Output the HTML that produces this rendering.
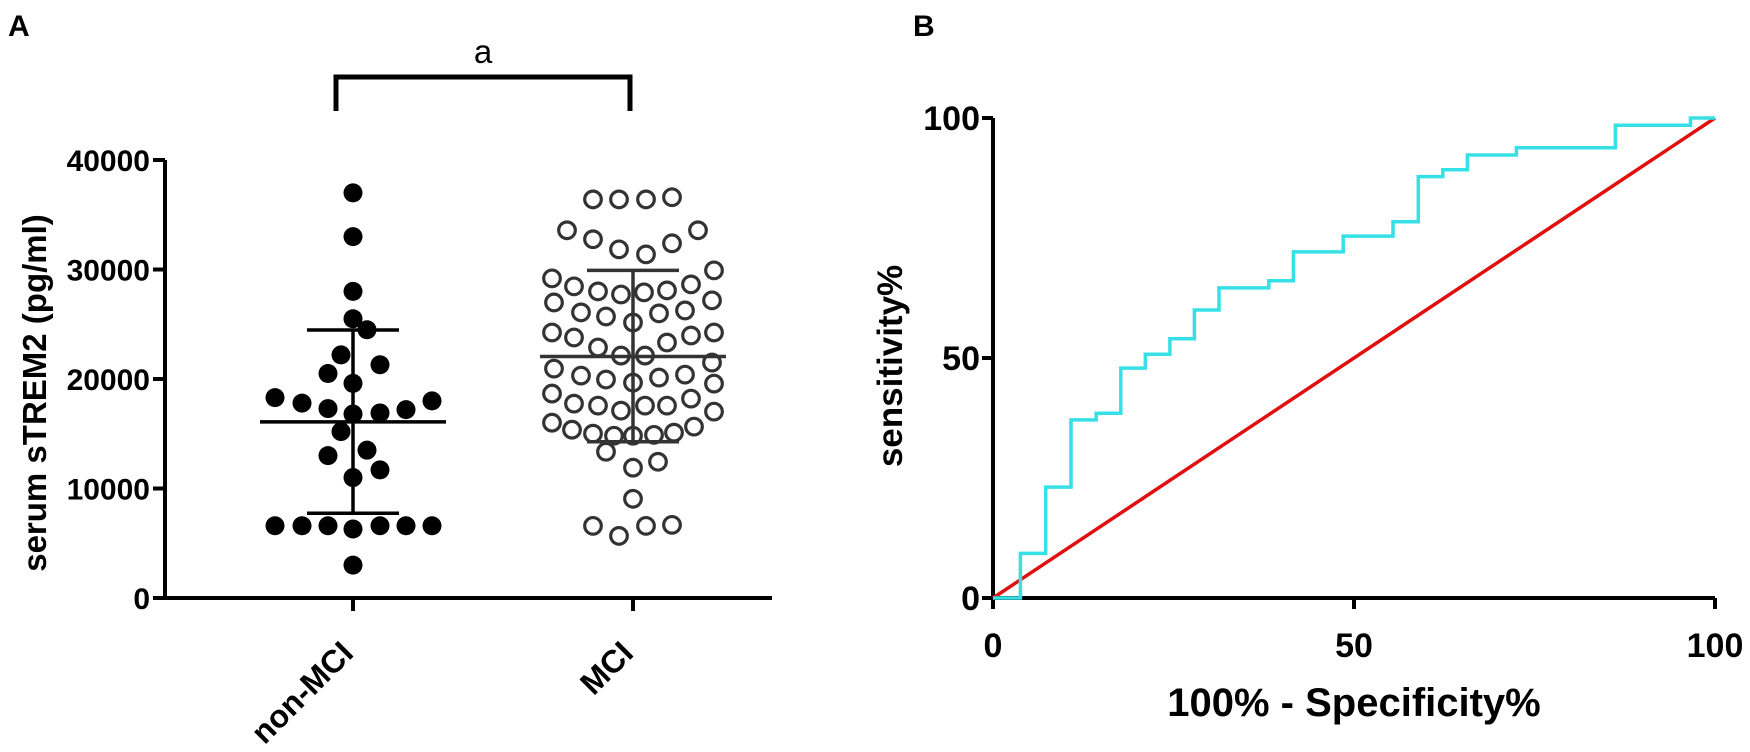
<!DOCTYPE html>
<html><head><meta charset="utf-8"><style>
html,body{margin:0;padding:0;background:#fff;}
svg{display:block;font-family:"Liberation Sans",Arial,sans-serif;}
</style></head><body>
<svg id="fig" width="1750" height="752" viewBox="0 0 1750 752">
<g id="panelA"></g>
<g id="panelB"></g>
</svg>
<script>
// ---------- Panel A data ----------
const groups = ["non-MCI","MCI"];
const nonMciValues = [37000,33000,28000,25500,24500,22200,21300,20500,19600,18300,17800,17300,16800,16900,17200,18000,15200,13000,13500,11700,11000,6600,6600,6600,6300,6600,6600,6600,3000];
const nonMciOffsets = [0,0,0,0,14,-12,27,-25,0,-78,-51,-25,0,27,53,79,-12,-25,14,27,0,-78,-51,-25,0,27,53,79,0];
const mciValues = [36400,36400,36400,36600,33580,32760,31840,31380,32390,33580,29190,28460,28000,27720,27910,28090,28640,29920,26990,26080,25710,25160,25990,26260,27180,24250,23790,22880,22140,22140,23330,23970,24250,21500,20950,20310,19950,19670,20130,20400,19580,18670,17750,17570,17110,17570,17570,18210,17020,16010,15370,15010,14820,14820,14900,15100,15650,13360,11900,12440,9060,6590,5670,6590,6680];
const mciOffsets = [-40,-14,13,39,-66,-40,-14,13,39,65,-81,-59,-35,-12,11,34,58,81,-79,-52,-27,0,26,52,79,-81,-59,-35,-12,12,34,58,81,79,-79,-52,-27,0,26,52,81,-81,-59,-35,-12,12,34,58,81,-81,-61,-40,-19,0,21,41,61,-27,0,25,0,-40,-14,13,39];
const groupMeans = [16090,22050];
const groupSdTop = [24480,29920];
const groupSdBottom = [7740,14270];
const yTicksA = [0,10000,20000,30000,40000];

// ---------- Panel B data ----------
const rocFpr =  [0,3.8,3.8,7.3,7.3,10.8,10.8,14.3,14.3,17.7,17.7,21.1,21.1,24.5,24.5,27.9,27.9,31.3,31.3,38.2,38.2,41.6,41.6,48.5,48.5,55.4,55.4,58.9,58.9,62.3,62.3,65.7,65.7,72.5,72.5,86.2,86.2,96.6,96.6,100];
const rocSens = [0,0,9.3,9.3,23.1,23.1,37.1,37.1,38.5,38.5,47.9,47.9,50.8,50.8,54.0,54.0,60.0,60.0,64.6,64.6,66.1,66.1,72.1,72.1,75.4,75.4,78.4,78.4,87.8,87.8,89.2,89.2,92.3,92.3,93.8,93.8,98.5,98.5,100,100];
const refLine = [0,100];
const ticksB = [0,50,100];

const NS="http://www.w3.org/2000/svg";
function mk(tag,attrs,parent){const e=document.createElementNS(NS,tag);for(const k in attrs)e.setAttribute(k,attrs[k]);parent.appendChild(e);return e;}

// ---------- Panel A ----------
const A=document.getElementById('panelA');
const yA=v=>598-v*(438/40000);
const xA=i=>[353,633][i];
let t;
t=mk('text',{x:8,y:36,'font-size':30,'font-weight':'bold'},A);t.textContent='A';


let ax=mk('path',{d:`M165,${yA(40000)} V598 H772`,stroke:'#000','stroke-width':4,fill:'none'},A);


yTicksA.forEach(v=>{
  let tk=mk('line',{x1:153,x2:165,y1:yA(v),y2:yA(v),stroke:'#000','stroke-width':4},A);
  
  
  let lb=mk('text',{x:150,y:yA(v)+11,'text-anchor':'end','font-size':30,'font-weight':'bold'},A);
  lb.textContent=v;
  
  
});
let yt=mk('text',{transform:'translate(46,393) rotate(-90)','text-anchor':'middle','font-size':33,'font-weight':'bold'},A);
yt.textContent='serum sTREM2 (pg/ml)';


groups.forEach((g,i)=>{
  let tk=mk('line',{x1:xA(i),x2:xA(i),y1:598,y2:611,stroke:'#000','stroke-width':4},A);
  
  
  let lb=mk('text',{transform:`translate(${xA(i)+2},${655}) rotate(-45)`,'text-anchor':'end','font-size':32,'font-weight':'bold'},A);
  lb.textContent=g;
  
  
});
let br=mk('path',{d:`M${336},111 V77 H${630} V111`,stroke:'#000','stroke-width':5,fill:'none'},A);


let sa=mk('text',{x:483,y:63,'text-anchor':'middle','font-size':33},A);
sa.textContent='a';


nonMciValues.forEach((v,k)=>{
  let c=mk('circle',{cx:xA(0)+nonMciOffsets[k],cy:yA(v),r:9.5,fill:'#000'},A);
  
  
});
mciValues.forEach((v,k)=>{
  let c=mk('circle',{cx:xA(1)+mciOffsets[k],cy:yA(v),r:8.3,fill:'none',stroke:'#333','stroke-width':3.2},A);
  
  
});
groups.forEach((g,i)=>{
  const col=i===0?'#000':'#333';
  let m=mk('line',{x1:xA(i)-93,x2:xA(i)+93,y1:yA(groupMeans[i]),y2:yA(groupMeans[i]),stroke:col,'stroke-width':3.5},A);
  
  
  let s=mk('path',{d:`M${xA(i)-46},${yA(groupSdTop[i])} H${xA(i)+46} M${xA(i)},${yA(groupSdTop[i])} V${yA(groupSdBottom[i])} M${xA(i)-46},${yA(groupSdBottom[i])} H${xA(i)+46}`,stroke:col,'stroke-width':3.5,fill:'none'},A);
  
  
});

// ---------- Panel B ----------
const B=document.getElementById('panelB');
const xB=v=>993+v*7.22;
const yB=v=>598-v*4.8;
t=mk('text',{x:913,y:36,'font-size':30,'font-weight':'bold'},B);t.textContent='B';


let axb=mk('path',{d:`M${xB(0)},${yB(100)} V598 H${xB(100)}`,stroke:'#000','stroke-width':4,fill:'none'},B);


ticksB.forEach(v=>{
  let a=mk('line',{x1:xB(0)-11,x2:xB(0),y1:yB(v),y2:yB(v),stroke:'#000','stroke-width':4},B);
  
  
  let l=mk('text',{x:xB(0)-13,y:yB(v)+12,'text-anchor':'end','font-size':34,'font-weight':'bold'},B);
  l.textContent=v;
  
  
  let b=mk('line',{x1:xB(v),x2:xB(v),y1:598,y2:609,stroke:'#000','stroke-width':4},B);
  
  
  let l2=mk('text',{x:xB(v),y:657,'text-anchor':'middle','font-size':34,'font-weight':'bold'},B);
  l2.textContent=v;
  
  
});
let ytb=mk('text',{transform:'translate(902,366) rotate(-90)','text-anchor':'middle','font-size':35,'font-weight':'bold'},B);
ytb.textContent='sensitivity%';


let xtb=mk('text',{x:1354,y:716,'text-anchor':'middle','font-size':40,'font-weight':'bold'},B);
xtb.textContent='100% - Specificity%';


let ref=mk('line',{x1:xB(refLine[0]),y1:yB(refLine[0]),x2:xB(refLine[1]),y2:yB(refLine[1]),stroke:'#e01010','stroke-width':3.5},B);


let d=rocFpr.map((f,k)=>(k?'L':'M')+xB(f).toFixed(1)+','+yB(rocSens[k]).toFixed(1)).join(' ');
let roc=mk('path',{d:d,stroke:'#35e0e6','stroke-width':3.5,fill:'none'},B);


</script>
</body></html>
